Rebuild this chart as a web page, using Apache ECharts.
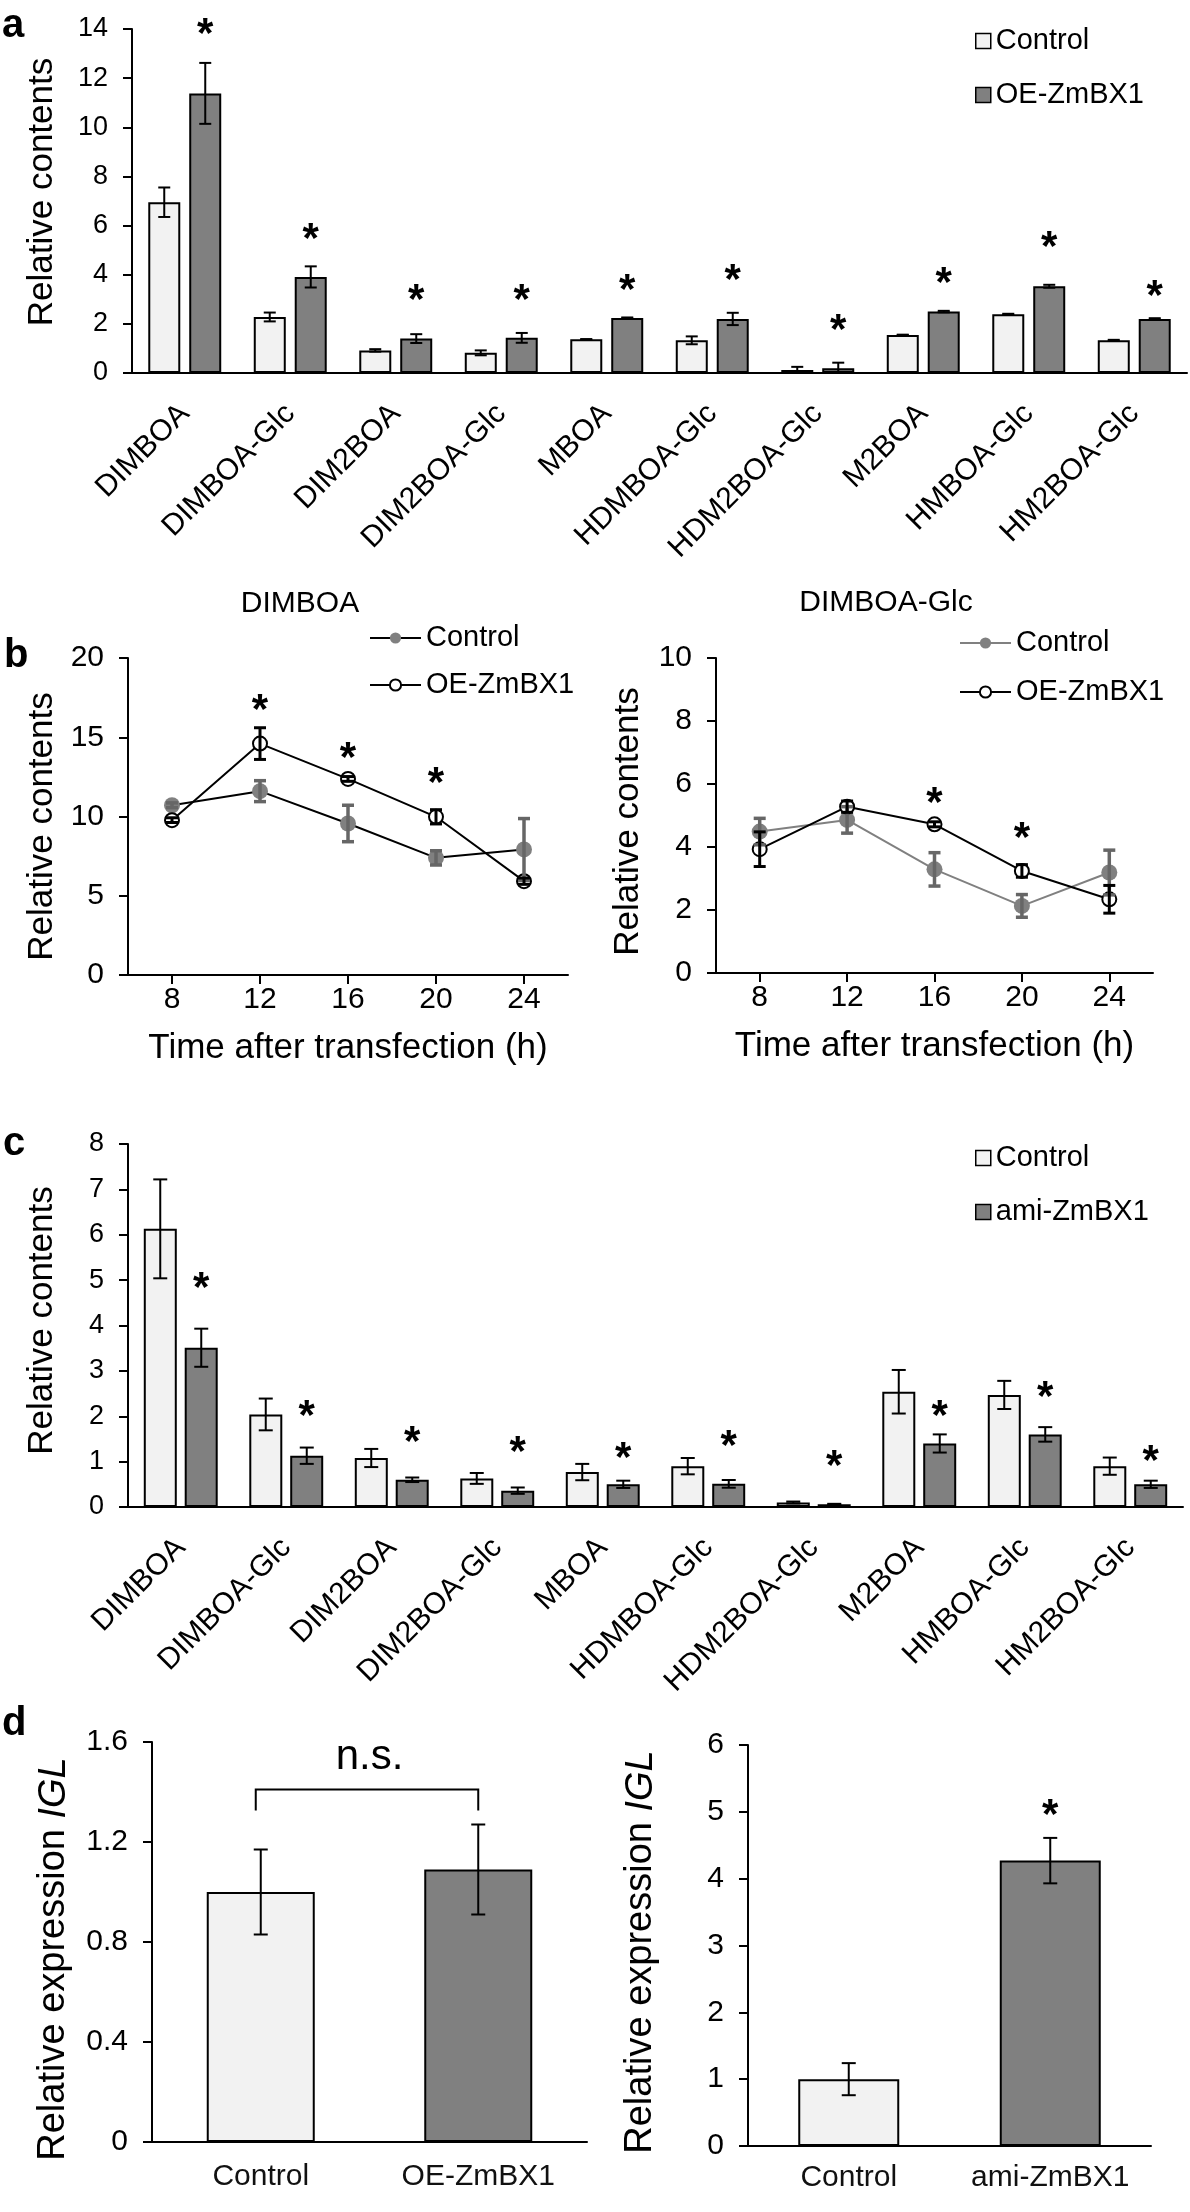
<!DOCTYPE html>
<html><head><meta charset="utf-8">
<script src="https://cdn.jsdelivr.net/npm/echarts@6/dist/echarts.min.js"></script>
<style>html,body{margin:0;padding:0;background:#fff}#c{width:1190px;height:2212px}</style>
</head><body><div id="c"></div>
<script>
// ---------- DATA ----------
const compounds = ['DIMBOA','DIMBOA-Glc','DIM2BOA','DIM2BOA-Glc','MBOA','HDMBOA-Glc','HDM2BOA-Glc','M2BOA','HMBOA-Glc','HM2BOA-Glc'];
// panel a
const aControl    = [6.95, 2.28, 0.92, 0.82, 1.37, 1.33, 0.12, 1.55, 2.39, 1.33];
const aControlErr = [0.60, 0.18, 0.05, 0.10, 0.01, 0.16, 0.13, 0.01, 0.02, 0.02];
const aOE         = [11.38, 3.91, 1.40, 1.43, 2.24, 2.20, 0.19, 2.50, 3.53, 2.20];
const aOEErr      = [1.24, 0.43, 0.18, 0.20, 0.02, 0.25, 0.23, 0.03, 0.06, 0.03];
const aStarIdx    = [0,1,2,3,4,5,6,7,8,9];
const aStarY      = [14.1, 5.79, 3.30, 3.29, 3.70, 4.10, 2.07, 3.97, 5.46, 3.47];
// panel b
const hours = ['8','12','16','20','24'];
const b1Control    = [10.71, 11.6, 9.56, 7.39, 7.92];
const b1ControlErr = [0.15, 0.66, 1.15, 0.45, 1.95];
const b1OE         = [9.77, 14.6, 12.37, 9.98, 5.92];
const b1OEErr      = [0.15, 1.0, 0.15, 0.45, 0.2];
const b1StarIdx    = [1,2,3];
const b1StarY      = [17.2, 14.2, 12.6];
const b2Control    = [4.49, 4.86, 3.29, 2.13, 3.19];
const b2ControlErr = [0.42, 0.42, 0.53, 0.36, 0.71];
const b2OE         = [3.93, 5.28, 4.72, 3.24, 2.34];
const b2OEErr      = [0.55, 0.18, 0.08, 0.20, 0.44];
const b2StarIdx    = [2,3];
const b2StarY      = [5.65, 4.54];
// panel c
const cControl    = [6.13, 2.04, 1.08, 0.63, 0.77, 0.90, 0.10, 2.54, 2.47, 0.90];
const cControlErr = [1.09, 0.35, 0.20, 0.12, 0.18, 0.18, 0.02, 0.48, 0.31, 0.19];
const cAmi        = [3.51, 1.13, 0.60, 0.36, 0.50, 0.51, 0.06, 1.40, 1.60, 0.50];
const cAmiErr     = [0.42, 0.18, 0.05, 0.07, 0.08, 0.085, 0.01, 0.20, 0.16, 0.08];
const cStarIdx    = [0,1,2,3,4,5,6,7,8,9];
const cStarY      = [5.0, 2.17, 1.60, 1.38, 1.26, 1.52, 1.07, 2.18, 2.59, 1.18];
// panel d
const d1Cats = ['Control','OE-ZmBX1'];
const d1Vals = [1.0, 1.09];
const d1Errs = [0.17, 0.18];
const d1Bracket = [1.41, 1.326, 1.54]; // bracket top, leg end, n.s. label
const d2Cats = ['Control','ami-ZmBX1'];
const d2Vals = [1.0, 4.27];
const d2Errs = [0.24, 0.34];
const d2StarIdx = [1];
const d2StarY   = [5.07];

// ---------- STYLE ----------
const FF = '"Liberation Sans", Arial, sans-serif';
const LIGHT = '#f2f2f2', DARK = '#808080';

function yAxis(gi, max, interval, fs, name, nameGap, pad, extra) {
  return Object.assign({
    type:'value', gridIndex:gi, min:0, max:max, interval:interval,
    name:name, nameLocation:'middle', nameGap:nameGap,
    nameTextStyle:{fontSize:35, color:'#000', fontFamily:FF, padding:pad},
    axisLine:{show:true, lineStyle:{color:'#000', width:2}},
    axisTick:{show:true, length:9, lineStyle:{color:'#000', width:2}},
    axisLabel:{fontSize:fs, color:'#000', fontFamily:FF, margin:24},
    splitLine:{show:false}
  }, extra||{});
}
function catAxis(gi, data, opts) {
  return Object.assign({
    type:'category', gridIndex:gi, data:data, boundaryGap:true,
    axisLine:{show:true, lineStyle:{color:'#000', width:2}},
    axisTick:{show:false},
    splitLine:{show:false}
  }, opts);
}
function errBars(ai, vals, errs, offset, color, lw, cap, z) {
  return {type:'custom', xAxisIndex:ai, yAxisIndex:ai, z:z||5, silent:true,
    data: vals.map((v,i)=>[i, v, errs[i]]), encode:{x:0, y:1},
    renderItem:(p, api)=>{
      const i=api.value(0), v=api.value(1), e=api.value(2);
      const t=api.coord([i, v+e]), b=api.coord([i, Math.max(0, v-e)]);
      const x=t[0]+offset; const st={stroke:color, lineWidth:lw};
      return {type:'group', children:[
        {type:'line', shape:{x1:x,y1:t[1],x2:x,y2:b[1]}, style:st},
        {type:'line', shape:{x1:x-cap,y1:t[1],x2:x+cap,y2:t[1]}, style:st},
        {type:'line', shape:{x1:x-cap,y1:b[1],x2:x+cap,y2:b[1]}, style:st}]};
    }};
}
function stars(ai, idx, ys, offset, size) {
  return {type:'custom', xAxisIndex:ai, yAxisIndex:ai, z:6, silent:true,
    data: idx.map((k,j)=>[k, ys[j]]), encode:{x:0, y:1},
    renderItem:(p, api)=>{
      const c=api.coord([api.value(0), api.value(1)]);
      return {type:'text', x:c[0]+offset, y:c[1]+size*0.22,
        style:{text:'*', fill:'#000', fontSize:size, fontWeight:'bold', fontFamily:FF, align:'center', verticalAlign:'middle'}};
    }};
}
function barSeries(ai, name, data, color, width, gap) {
  return {type:'bar', name:name, xAxisIndex:ai, yAxisIndex:ai, data:data, barWidth:width, barGap:gap,
    itemStyle:{color:color, borderColor:'#000', borderWidth:2}, z:2};
}
function lineSeries(ai, name, data, ctrl, lineColor) {
  return {type:'line', name:name, xAxisIndex:ai, yAxisIndex:ai, data:data,
    symbol: ctrl ? 'circle' : 'emptyCircle', symbolSize: ctrl ? 16 : 14,
    itemStyle: ctrl ? {color:'#808080'} : {color:'#000', borderWidth:2},
    lineStyle:{color:lineColor, width:2}, z:2};
}
const legendText = {fontSize:29, color:'#000', fontFamily:FF, lineHeight:30};
const trimFmt = n => n.trim();
const richIGL = {i:{fontSize:38, fontStyle:'italic', color:'#000', fontFamily:FF}};

const option = {
  animation:false,
  backgroundColor:'#fff',
  textStyle:{fontFamily:FF},
  grid:[
    {left:132, top:29, width:1055, height:344, containLabel:false, outerBoundsMode:'none'},
    {left:128, top:658, width:440, height:317, containLabel:false, outerBoundsMode:'none'},
    {left:716, top:658, width:437, height:315, containLabel:false, outerBoundsMode:'none'},
    {left:128, top:1144, width:1055, height:363, containLabel:false, outerBoundsMode:'none'},
    {left:152, top:1742, width:435, height:400, containLabel:false, outerBoundsMode:'none'},
    {left:748, top:1745, width:403, height:401, containLabel:false, outerBoundsMode:'none'}
  ],
  xAxis:[
    catAxis(0, compounds, {axisLabel:{interval:0, rotate:45, fontSize:30, color:'#000', fontFamily:FF, margin:36}}),
    catAxis(1, hours, {name:'Time after transfection (h)', nameLocation:'middle', nameGap:56,
      nameTextStyle:{fontSize:35, color:'#000', fontFamily:FF},
      axisTick:{show:true, alignWithLabel:true, length:9, lineStyle:{color:'#000', width:2}},
      axisLabel:{fontSize:30, color:'#000', fontFamily:FF, margin:10}}),
    catAxis(2, hours, {name:'Time after transfection (h)', nameLocation:'middle', nameGap:56,
      nameTextStyle:{fontSize:35, color:'#000', fontFamily:FF},
      axisTick:{show:true, alignWithLabel:true, length:9, lineStyle:{color:'#000', width:2}},
      axisLabel:{fontSize:30, color:'#000', fontFamily:FF, margin:10}}),
    catAxis(3, compounds, {axisLabel:{interval:0, rotate:45, fontSize:30, color:'#000', fontFamily:FF, margin:36}}),
    catAxis(4, d1Cats, {axisLabel:{interval:0, fontSize:30, color:'#111', fontFamily:FF, margin:20}}),
    catAxis(5, d2Cats, {axisLabel:{interval:0, fontSize:30, color:'#111', fontFamily:FF, margin:17}})
  ],
  yAxis:[
    yAxis(0, 14, 2, 27, 'Relative contents', 72, [0,0,0,18]),
    yAxis(1, 20, 5, 30, 'Relative contents', 68, [0,20,0,0]),
    yAxis(2, 10, 2, 30, 'Relative contents', 70, [0,12,0,0]),
    yAxis(3, 8, 1, 27, 'Relative contents', 68, [0,0,0,10]),
    yAxis(4, 1.6, 0.4, 30, 'Relative expression {i|IGL}', 79, [0,34,0,0], {
      nameTextStyle:{fontSize:38, color:'#000', fontFamily:FF, padding:[0,34,0,0], rich:richIGL}}),
    yAxis(5, 6, 1, 30, 'Relative expression {i|IGL}', 88, [0,13,0,0], {
      nameTextStyle:{fontSize:38, color:'#000', fontFamily:FF, padding:[0,13,0,0], rich:richIGL}})
  ],
  legend:[
    {orient:'vertical', left:970, top:21, itemWidth:15, itemHeight:15, itemGap:24, icon:'rect',
     data:['Control','OE-ZmBX1'], textStyle:legendText, itemStyle:{borderColor:'#000', borderWidth:1.5}},
    {orient:'vertical', left:364, top:618, itemWidth:51, itemHeight:14, itemGap:17,
     data:['Control ','OE-ZmBX1 '], formatter:trimFmt, textStyle:legendText},
    {orient:'vertical', left:954, top:623, itemWidth:51, itemHeight:14, itemGap:19,
     data:['Control  ','OE-ZmBX1  '], formatter:trimFmt, textStyle:legendText},
    {orient:'vertical', left:970, top:1138, itemWidth:15, itemHeight:15, itemGap:24, icon:'rect',
     data:['Control','ami-ZmBX1'], textStyle:legendText, itemStyle:{borderColor:'#000', borderWidth:1.5}}
  ],
  graphic:[
    {type:'text', left:2, top:6, style:{text:'a', fontSize:40, fontWeight:'bold', fill:'#000', fontFamily:FF}},
    {type:'text', left:4, top:636, style:{text:'b', fontSize:40, fontWeight:'bold', fill:'#000', fontFamily:FF}},
    {type:'text', left:3, top:1124, style:{text:'c', fontSize:40, fontWeight:'bold', fill:'#000', fontFamily:FF}},
    {type:'text', left:2, top:1704, style:{text:'d', fontSize:40, fontWeight:'bold', fill:'#000', fontFamily:FF}},
    {type:'text', x:300, y:604, style:{text:'DIMBOA', fontSize:30, fill:'#000', fontFamily:FF, align:'center', verticalAlign:'middle'}},
    {type:'text', x:886, y:603, style:{text:'DIMBOA-Glc', fontSize:30, fill:'#000', fontFamily:FF, align:'center', verticalAlign:'middle'}}
  ],
  series:[
    // panel a
    barSeries(0, 'Control', aControl, LIGHT, 32, '28%'),
    barSeries(0, 'OE-ZmBX1', aOE, DARK, 32, '28%'),
    errBars(0, aControl, aControlErr, -20.5, '#000', 2, 6),
    errBars(0, aOE, aOEErr, 20.5, '#000', 2, 6),
    stars(0, aStarIdx, aStarY, 20.5, 42),
    // panel b left
    lineSeries(1, 'Control ', b1Control, true, '#000'),
    lineSeries(1, 'OE-ZmBX1 ', b1OE, false, '#000'),
    errBars(1, b1Control, b1ControlErr, 0, '#666', 3.5, 6),
    errBars(1, b1OE, b1OEErr, 0, '#000', 3, 6),
    stars(1, b1StarIdx, b1StarY, 0, 42),
    // panel b right
    lineSeries(2, 'Control  ', b2Control, true, '#808080'),
    lineSeries(2, 'OE-ZmBX1  ', b2OE, false, '#000'),
    errBars(2, b2Control, b2ControlErr, 0, '#666', 3.5, 6),
    errBars(2, b2OE, b2OEErr, 0, '#000', 3, 6),
    stars(2, b2StarIdx, b2StarY, 0, 42),
    // panel c
    barSeries(3, 'Control', cControl, LIGHT, 33, '24%'),
    barSeries(3, 'ami-ZmBX1', cAmi, DARK, 33, '24%'),
    errBars(3, cControl, cControlErr, -20.5, '#000', 2, 7),
    errBars(3, cAmi, cAmiErr, 20.5, '#000', 2, 7),
    stars(3, cStarIdx, cStarY, 20.5, 42),
    // panel d left
    {type:'bar', name:'d1', xAxisIndex:4, yAxisIndex:4, barWidth:108,
     data: d1Vals.map((v,i)=>({value:v, itemStyle:{color: i===0?LIGHT:DARK}})),
     itemStyle:{borderColor:'#000', borderWidth:2}},
    errBars(4, d1Vals, d1Errs, 0, '#000', 2, 7),
    {type:'custom', xAxisIndex:4, yAxisIndex:4, z:6, silent:true,
     data:[[0, d1Bracket[0], d1Bracket[1], d1Bracket[2]]], encode:{x:0, y:1},
     renderItem:(p, api)=>{
       const top=api.value(1), leg=api.value(2), ns=api.value(3);
       const l=api.coord([0, top]), r=api.coord([1, top]);
       const ly=api.coord([0, leg])[1], ny=api.coord([0, ns])[1];
       return {type:'group', children:[
         {type:'polyline', shape:{points:[[l[0]-5, ly],[l[0]-5, l[1]],[r[0], r[1]],[r[0], ly]]},
          style:{stroke:'#000', lineWidth:2, fill:null}},
         {type:'text', x:(l[0]+r[0])/2, y:ny, style:{text:'n.s.', fontSize:42, fill:'#000', fontFamily:FF, align:'center', verticalAlign:'middle'}}]};
     }},
    // panel d right
    {type:'bar', name:'d2', xAxisIndex:5, yAxisIndex:5, barWidth:101,
     data: d2Vals.map((v,i)=>({value:v, itemStyle:{color: i===0?LIGHT:DARK}})),
     itemStyle:{borderColor:'#000', borderWidth:2}},
    errBars(5, d2Vals, d2Errs, 0, '#000', 2, 7),
    stars(5, d2StarIdx, d2StarY, 0, 42)
  ]
};
const chart = echarts.init(document.getElementById('c'), null, {renderer:'canvas'});
chart.setOption(option);
</script></body></html>
